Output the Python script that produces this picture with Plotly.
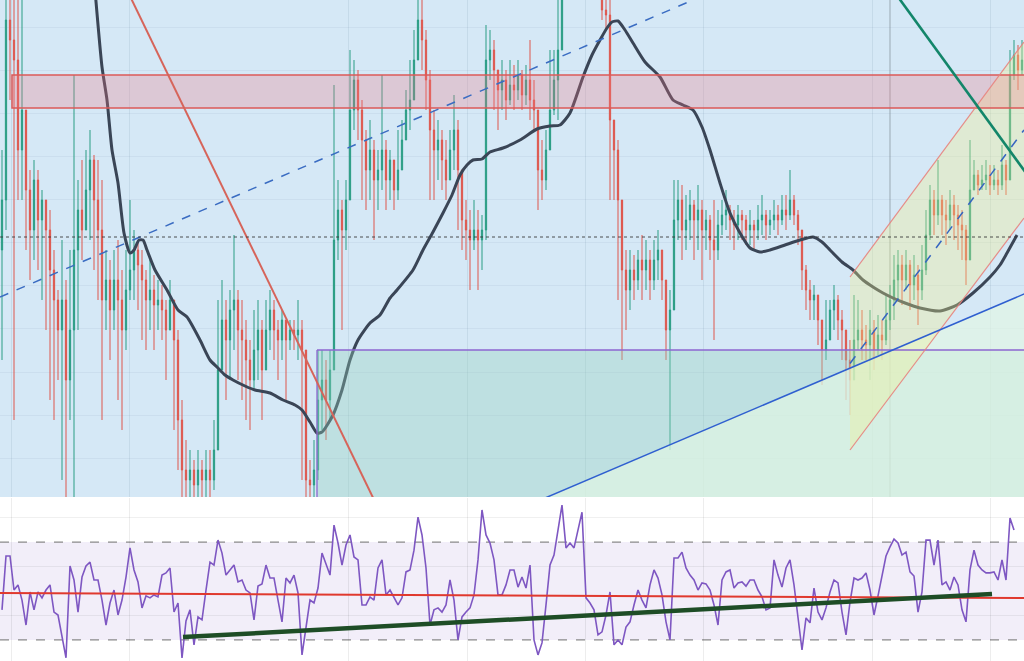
import plotly.graph_objects as go

# ---------------- price data (one candle per bar index) ----------------
closes = [300,480,460,440,350,390,310,270,320,280, 300,270,230,200,170,200,120,170,250,290,
          270,310,340,300,270,200,220,190,220,200, 170,210,230,250,235,220,200,210,195,200,
          190,170,200,160,80,30,20,30,15,30, 20,30,20,50,130,180,160,190,200,170,
          160,140,120,150,170,130,170,190,170,160, 180,160,170,165,170,150,20,15,30,100,
          120,100,130,260,290,270,300,390,420,390, 360,330,350,320,330,350,320,340,310,330,
          360,390,400,440,480,460,420,370,350,360, 340,320,350,370,330,280,270,260,270,260,
          270,440,450,430,410,420,400,415,410,425, 405,420,400,390,330,320,350,390,420,450,
          510,540,530,550,540,520,535,545,530,515, 490,485,380,350,300,230,210,230,220,240,
          230,240,220,240,250,220,170,190,280,300, 270,280,295,280,290,270,280,260,250,275,
          285,290,280,275,285,280,270,275,270,280, 285,275,280,285,280,290,285,300,285,270,
          230,210,200,205,180,150,160,190,200,180, 170,140,120,160,170,160,155,170,150,165,
          160,180,200,220,235,220,235,215,225,210, 230,265,300,285,300,285,280,295,285,275,
          270,240,310,325,315,320,325,315,320,315, 335,320,425,445,430,440]
highs = [350,505,520,510,505,505,360,330,340,330, 310,300,290,250,210,260,220,250,425,320,
         340,350,370,345,340,320,250,240,250,260, 230,250,300,270,260,250,230,240,225,220,
         215,200,220,180,170,100,60,50,40,50, 40,50,50,80,200,220,200,210,265,210,
         200,180,160,190,200,180,200,210,200,180, 190,170,180,180,200,180,60,40,60,150,
         150,140,150,415,320,300,320,450,440,430, 400,370,380,360,350,425,360,350,335,370,
         380,410,440,470,520,510,470,430,390,380, 370,360,370,405,380,320,300,290,300,290,
         285,475,470,460,430,440,430,440,435,440, 430,435,460,420,390,360,370,450,450,510,
         530,560,550,570,560,540,550,560,550,530, 520,510,500,370,360,260,250,250,245,250,
         265,260,250,260,270,250,220,210,320,320, 315,305,310,300,315,300,290,285,300,290,
         300,310,295,290,295,290,285,290,280,295, 305,290,290,300,295,305,305,330,305,290,
         260,235,220,215,200,180,200,200,215,205, 190,170,160,205,200,190,175,190,180,185,
         180,205,215,245,250,245,250,240,245,235, 255,290,315,310,340,305,300,310,305,295,
         290,275,360,340,330,335,340,335,335,330, 355,340,450,460,455,460]
lows = [140,270,400,80,300,300,250,220,240,230, 200,170,100,80,120,20,-10,80,-10,170,
        240,270,260,230,200,80,170,140,170,100, 70,150,200,200,190,160,150,170,150,170,
        160,120,170,70,30,-10,-10,0,-10,0, -10,0,0,10,50,140,100,120,150,120,
        100,80,70,110,120,80,130,150,140,120, 140,100,150,150,140,20,0,0,0,20,
        70,60,80,240,240,170,250,300,370,360, 300,290,300,260,290,310,290,300,290,300,
        330,360,370,400,450,430,390,300,300,320, 310,300,320,330,270,250,240,210,250,210,
        230,260,420,390,370,390,380,395,390,400, 390,395,380,370,290,300,310,360,385,380,
        460,510,510,520,520,505,510,520,510,505, 480,470,300,300,200,140,170,190,200,210,
        200,210,200,210,220,200,140,50,200,260, 240,250,260,240,250,220,250,240,160,240,
        265,270,260,250,260,260,255,255,250,260, 265,260,265,270,265,275,270,280,275,255,
        210,190,180,180,155,115,140,160,170,160, 140,100,85,130,150,140,140,120,130,145,
        140,155,170,180,200,195,210,190,200,175, 200,225,260,265,275,265,255,270,260,250,
        240,215,250,310,305,310,310,305,310,305, 310,305,330,420,410,425]
first_open = 250
opens = [first_open] + closes[:-1]

# ---------------- moving average ----------------
ma_x = [23.25,25,26.25,27.5,29,30.5,32,33,34.25,35.25,36.25,38.25,41.25,44,46.25,49.5,52,53.75,
        55.75,57.75,60.75,63.25,67,70.25,73.25,75,77,78.75,80,82.75,85,87,89,92,94.5,97,98.75,
        102.75,105.25,107.75,110.25,112.5,114.5,116.25,117.75,120,122,125.25,129.5,133.75,137,
        139.5,142,145.25,147.5,149.5,151.25,152.5,154,155.75,157.75,160.75,164.5,167.75,170.25,
        172.75,175,177,179.5,182,184.5,187,189.5,192,195.75,199.5,202.75,205,207,210,212.75,
        215.25,217.75,220.25,222.75,225.75,229.5,234.5,238.75,242.75,247,249.5,251.25,253.75]
ma_y = [510,433,400,350,317,267,247,250,260,260,250,230,210,190,183,160,140,133,
        125,120,114,110,107,100,95,90,78,67,68,85,110,140,160,177,185,202,210,
        230,250,268,287,305,325,335,340,341,348,352,360,371,374,
        375,387,423,445,460,472,478,479,470,457,438,423,400,395,
        390,373,350,317,287,267,252,248,250,255,260,263,258,250,238,230,
        220,213,207,202,197,192,189,195,207,223,235,247,265]

# ---------------- RSI panel ----------------
rsi = [42.3,64.3,64.3,50.4,52.5,46.3,36.1,49.6,42.3,49.6, 47.2,50.4,52.5,41.4,40.2,32.1,22.7,60.2,54.5,41.4,
       55.7,60.2,61.8,54.5,54.5,46.3,36.1,45.1,50.4,40.2, 46.3,55.7,67.6,58.6,53.7,43.1,48,47.2,48.4,47.6,
       56.5,57.4,59.4,41.4,45.1,22.7,37.8,42.3,28,39.4, 38.2,50.4,61.8,60.6,70.8,65.5,56.5,58.6,60.6,53.7,
       54.5,50.4,49.2,38.2,52,52.9,60.6,55.3,55.3,46.3, 37.4,55.3,53.3,56.5,49.2,23.9,36.1,46.3,45.1,51.2,
       65.5,60.6,56.5,76.9,69.6,60.6,68.8,72.9,63.9,62.7, 44.3,44.3,47.6,46.3,59.4,62.7,48.4,50.4,47.2,44.3,
       47.2,57.8,58.6,66.7,80.2,72.9,59.4,36.1,42.3,43.1, 41.4,44.3,54.5,46.3,30,39.4,41.4,43.1,48.4,62.7,
       83.1,72.9,69.6,62.7,48.4,48.4,52.5,58.6,58.6,51.6, 55.7,51.2,60.6,30,23.9,28.8,44.3,60.6,64.7,74.9,
       85.1,67.6,69.6,67.6,74.9,82.2,47.2,45.1,42.3,32.1, 33.3,40.2,49.6,28,30,28,35.3,37.4,44.3,50.4,
       46.3,43.1,52.5,58.6,55.3,48.4,37.4,30,63.5,63.5, 65.9,59.4,56.5,54.5,50.4,53.3,52.9,50.4,44.3,36.1,
       54.5,57.8,58.6,51.2,53.3,53.7,52,54.5,54.5,50.4, 47.6,42.3,43.1,62.7,56.5,51.6,59.4,62.7,52.5,40.2,
       25.9,39,37,51.2,41.4,38.2,43.1,49.6,54.5,53.3, 41.4,32.1,45.5,55.3,54.5,55.3,57.4,50.4,40.2,48,
       55.7,64.3,68,71.2,69.6,64.7,65.9,57.8,56.1,41.4, 49.6,70.8,70.8,60.6,70.8,52.5,53.7,50.4,55.7,52.5,
       42.3,37.4,58.6,66.7,60.6,58.6,57.4,57.4,57.8,54.5, 62.7,54.5,79.8,74.9,None,None]
rsi_upper, rsi_lower = 70, 30
rsi_ma_x = [-0.5, 255.5]
rsi_ma_y = [49.2, 47.1]
rsi_trend_x = [45.25, 247.5]
rsi_trend_y = [31.2, 48.8]

# ---------------- drawing-tool anchors (bar index, price) ----------------
band_x = [2.5, 256]
band_y = [392, 425]
red_diag = [(31.25, 510), (94.25, -10)]
blue_dash = [(-0.5, 203), (172.75, 500)]
chan_top = [(212, 223), (255.5, 458)]
chan_bot = [(212, 50), (255.5, 282)]
chan_mid = [(212, 136.5), (255.5, 370)]
teal_line = [(222.75, 510), (256, 327)]
blue_line = [(135.75, 2), (256, 206.8)]
box_x0, box_top = 78.75, 150
last_price = 263
session_x = 222

grid_x = [2.25, 31.75, 86.5, 116.25, 145.75, 175.25, 217.5, 247]
grid_y = [42, 85, 128, 171.5, 215, 258, 301, 344, 387, 430, 473]

x = list(range(len(closes)))

fig = go.Figure()
fig.add_trace(go.Candlestick(
    x=x, open=opens, high=highs, low=lows, close=closes, xaxis='x', yaxis='y',
    increasing=dict(line=dict(color='#2a9d84', width=1), fillcolor='#2a9d84'),
    decreasing=dict(line=dict(color='#de564d', width=1), fillcolor='#de564d'),
    whiskerwidth=0, showlegend=False, hoverinfo='skip'))
fig.add_trace(go.Scatter(x=ma_x, y=ma_y, mode='lines', xaxis='x', yaxis='y',
                         line=dict(color='#3a4556', width=3, shape='spline', smoothing=0.6),
                         hoverinfo='skip', showlegend=False))

fig.add_trace(go.Scatter(x=x, y=rsi, mode='lines', xaxis='x2', yaxis='y2',
                         line=dict(color='#7e57c2', width=1.6), hoverinfo='skip', showlegend=False))
fig.add_trace(go.Scatter(x=rsi_ma_x, y=rsi_ma_y, mode='lines', xaxis='x2', yaxis='y2',
                         line=dict(color='#e0392e', width=2), hoverinfo='skip', showlegend=False))
fig.add_trace(go.Scatter(x=rsi_trend_x, y=rsi_trend_y, mode='lines', xaxis='x2', yaxis='y2',
                         line=dict(color='#1e4d26', width=4.5), hoverinfo='skip', showlegend=False))

shapes = []
# top panel background
shapes.append(dict(type='rect', xref='x domain', yref='y domain', x0=0, x1=1, y0=0, y1=1,
                   fillcolor='#d5e8f6', line=dict(width=0), layer='below'))
# RSI band
shapes.append(dict(type='rect', xref='x2 domain', yref='y2', x0=0, x1=1, y0=rsi_lower, y1=rsi_upper,
                   fillcolor='rgba(126,87,194,0.10)', line=dict(width=0), layer='below'))
for lv in (rsi_upper, rsi_lower):
    shapes.append(dict(type='line', xref='x2 domain', yref='y2', x0=0, x1=1, y0=lv, y1=lv,
                       line=dict(color='#8a8a8a', width=1.2, dash='dash'), layer='below'))
# session separator
shapes.append(dict(type='line', xref='x', yref='y domain', x0=session_x, x1=session_x, y0=0, y1=1,
                   line=dict(color='rgba(105,115,125,0.45)', width=1.2), layer='below'))

# zone box (fill)
shapes.append(dict(type='rect', xref='x', yref='y', x0=box_x0, x1=256, y0=-10, y1=box_top,
                   fillcolor='rgba(150,210,185,0.35)', line=dict(width=0), layer='above'))
# area under blue trend line
shapes.append(dict(type='path', xref='x', yref='y',
                   path=f'M {blue_line[0][0]},{blue_line[0][1]-10} L {blue_line[0][0]},{blue_line[0][1]} '
                        f'L {blue_line[1][0]},{blue_line[1][1]} L {blue_line[1][0]},-10 Z',
                   fillcolor='rgba(228,247,228,0.65)', line=dict(width=0), layer='above'))
# parallel channel fill
shapes.append(dict(type='path', xref='x', yref='y',
                   path=f'M {chan_top[0][0]},{chan_top[0][1]} L {chan_top[1][0]},{chan_top[1][1]} '
                        f'L {chan_bot[1][0]},{chan_bot[1][1]} L {chan_bot[0][0]},{chan_bot[0][1]} Z',
                   fillcolor='rgba(242,240,140,0.33)', line=dict(width=0), layer='above'))
# resistance band
shapes.append(dict(type='rect', xref='x', yref='y', x0=band_x[0], x1=band_x[1], y0=band_y[0], y1=band_y[1],
                   fillcolor='rgba(240,120,130,0.28)', line=dict(color='#dc5a58', width=1.5), layer='above'))
# box borders
shapes.append(dict(type='line', xref='x', yref='y', x0=box_x0, x1=256, y0=box_top, y1=box_top,
                   line=dict(color='#8d66d0', width=1.3), layer='above'))
shapes.append(dict(type='line', xref='x', yref='y', x0=box_x0, x1=box_x0, y0=-10, y1=box_top,
                   line=dict(color='#8d66d0', width=1.3), layer='above'))
# channel edges
for seg in (chan_top, chan_bot):
    shapes.append(dict(type='line', xref='x', yref='y', x0=seg[0][0], y0=seg[0][1], x1=seg[1][0], y1=seg[1][1],
                       line=dict(color='rgba(232,130,125,0.9)', width=1.2), layer='above'))
shapes.append(dict(type='line', xref='x', yref='y', x0=chan_mid[0][0], y0=chan_mid[0][1],
                   x1=chan_mid[1][0], y1=chan_mid[1][1],
                   line=dict(color='#3565c0', width=1.5, dash='dash'), layer='above'))
# trend lines
shapes.append(dict(type='line', xref='x', yref='y', x0=red_diag[0][0], y0=red_diag[0][1],
                   x1=red_diag[1][0], y1=red_diag[1][1], line=dict(color='#d6645a', width=2), layer='above'))
shapes.append(dict(type='line', xref='x', yref='y', x0=blue_dash[0][0], y0=blue_dash[0][1],
                   x1=blue_dash[1][0], y1=blue_dash[1][1],
                   line=dict(color='#3a6cc2', width=1.5, dash='dash'), layer='above'))
shapes.append(dict(type='line', xref='x', yref='y', x0=teal_line[0][0], y0=teal_line[0][1],
                   x1=teal_line[1][0], y1=teal_line[1][1], line=dict(color='#13866a', width=2.6), layer='above'))
shapes.append(dict(type='line', xref='x', yref='y', x0=blue_line[0][0], y0=blue_line[0][1],
                   x1=blue_line[1][0], y1=blue_line[1][1], line=dict(color='#2f5fd0', width=1.5), layer='above'))
# last price line
shapes.append(dict(type='line', xref='x domain', yref='y', x0=0, x1=1, y0=last_price, y1=last_price,
                   line=dict(color='rgba(50,50,50,0.85)', width=1, dash='dot'), layer='above'))

axis_common = dict(showticklabels=False, zeroline=False, showline=False, ticks='', fixedrange=True)
fig.update_layout(
    width=1024, height=661, margin=dict(l=0, r=0, t=0, b=0),
    paper_bgcolor='white', plot_bgcolor='white', showlegend=False,
    boxgap=0.55,
    shapes=shapes,
    xaxis=dict(domain=[0, 1], range=[-0.5, 255.5], anchor='y', tickvals=grid_x, showgrid=True,
               gridcolor='rgba(90,120,150,0.13)', rangeslider=dict(visible=False), **axis_common),
    yaxis=dict(domain=[0.2481, 1], range=[3, 500], anchor='x', tickvals=grid_y, showgrid=True,
               gridcolor='rgba(90,120,150,0.08)', **axis_common),
    xaxis2=dict(domain=[0, 1], range=[-0.5, 255.5], anchor='y2', tickvals=grid_x, showgrid=True,
                gridcolor='rgba(0,0,0,0.07)', **axis_common),
    yaxis2=dict(domain=[0, 0.2466], range=[21.4, 88], anchor='x2', tickvals=[40, 60, 80], showgrid=True,
                gridcolor='rgba(0,0,0,0.06)', **axis_common),
)

fig.write_html('out.html', config={'displayModeBar': False},
               post_script="document.body.style.margin='0';document.body.style.overflow='hidden';")
